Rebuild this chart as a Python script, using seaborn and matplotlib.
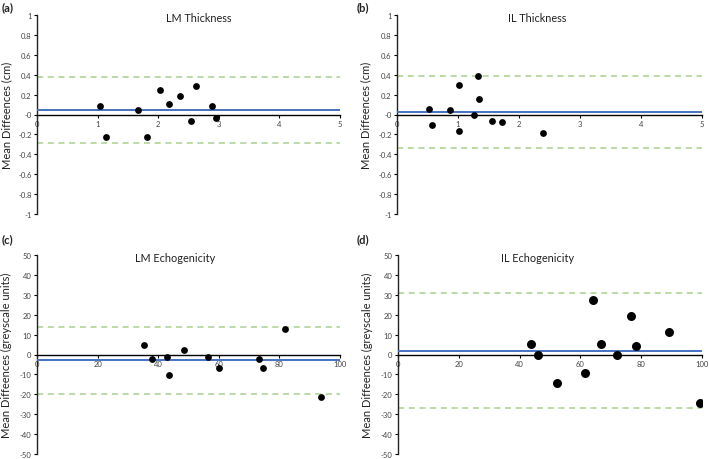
import matplotlib
matplotlib.use("Agg")
import numpy as np
import pandas as pd
import matplotlib.pyplot as plt
import seaborn as sns

#---DATA---
#(a) LM thickness
lm_thick_mean = [1.04, 1.14, 1.66, 1.81, 2.03, 2.17, 2.36, 2.54, 2.63, 2.88, 2.95]
lm_thick_diff = [0.085, -0.225, 0.045, -0.225, 0.25, 0.105, 0.185, -0.065, 0.285, 0.085, -0.035]
lm_thick_bias = 0.045
lm_thick_loa = [0.38, -0.29]

#(b) IL thickness
il_thick_mean = [0.52, 0.58, 0.87, 1.01, 1.01, 1.26, 1.32, 1.34, 1.56, 1.72, 2.40]
il_thick_diff = [0.057, -0.11, 0.044, 0.30, -0.17, 0.0, 0.386, 0.16, -0.07, -0.077, -0.19]
il_thick_bias = 0.03
il_thick_loa = [0.39, -0.335]

#(c) LM echogenicity
lm_echo_mean = [35.4, 38.1, 42.9, 43.4, 48.6, 56.6, 60.2, 73.2, 74.5, 81.9, 93.7]
lm_echo_diff = [4.8, -2.2, -1.2, -10.5, 2.5, -1.3, -6.7, -2.2, -6.7, 12.8, -21.3]
lm_echo_bias = -2.8
lm_echo_loa = [14.0, -20.0]

#(d) IL echogenicity
il_echo_mean = [43.9, 46.0, 52.3, 61.5, 64.2, 66.9, 72.0, 76.6, 78.4, 89.3, 99.3]
il_echo_diff = [5.2, -0.2, -14.2, -9.5, 27.3, 5.3, -0.5, 19.5, 4.2, 11.2, -24.2]
il_echo_bias = 1.8
il_echo_loa = [30.8, -26.7]

panel_letters = ["(a)", "(b)", "(c)", "(d)"]
panel_titles = ["LM Thickness", "IL Thickness", "LM Echogenicity", "IL Echogenicity"]
ylabel_cm = "Mean Diffeences (cm)"
ylabel_grey = "Mean Diffeences (greyscale units)"
#---END DATA---

sns.set_theme(style="ticks")
plt.rcParams["font.family"] = ["Lato", "DejaVu Sans"]

fig = plt.figure(figsize=(7.09, 4.6), dpi=100)

W, H = 709, 460
def px_axes(x0, y0, x1, y1):
    #convert pixel box (top-left origin) into figure fraction
    return fig.add_axes([x0 / W, 1 - y1 / H, (x1 - x0) / W, (y1 - y0) / H])

ax_a = px_axes(37, 16, 340, 215)
ax_b = px_axes(397, 16, 702, 215)
ax_c = px_axes(37, 256, 340, 455)
ax_d = px_axes(398, 256, 702, 455)

def draw_panel(ax, xs, ys, bias, loa, xmax, ylim, ystep, ylabel, title, title_x, size):
    df = pd.DataFrame({"mean": xs, "diff": ys})
    sns.scatterplot(data=df, x="mean", y="diff", ax=ax, color="black", s=size,
                    edgecolor="black", linewidth=0, zorder=4)
    ax.axhline(bias, color="#4472C4", lw=1.4, zorder=3)
    for v in loa:
        ax.axhline(v, color="#A9D18E", lw=1.1, ls=(0, (4, 3)), zorder=2)
    ax.set_xlim(0, xmax)
    ax.set_ylim(-ylim, ylim)
    xt = np.linspace(0, xmax, 6)
    yt = np.round(np.arange(-ylim, ylim + ystep / 2, ystep), 1)
    ax.set_xticks(xt)
    ax.set_yticks(yt)
    ax.set_xticklabels([f"{v:g}" for v in xt])
    ax.set_yticklabels([f"{v:g}" for v in yt])
    ax.spines["top"].set_visible(False)
    ax.spines["right"].set_visible(False)
    ax.spines["bottom"].set_position(("data", 0))
    ax.spines["bottom"].set_linewidth(1.0)
    ax.spines["left"].set_linewidth(1.0)
    ax.spines["bottom"].set_color("black")
    ax.spines["left"].set_color("#222222")
    ax.tick_params(axis="both", labelsize=5.5, labelcolor="#444444", length=2.5, width=0.8,
                   pad=1.5, color="black")
    ax.set_xlabel("")
    ax.set_ylabel(ylabel, fontsize=8, color="#222222")
    ax.yaxis.set_label_coords(-0.083, 0.5)
    ax.text(title_x, 0.985, title, transform=ax.transAxes, ha="center", va="center",
            fontsize=7.8, color="#222222")
    ax.set_facecolor("white")

draw_panel(ax_a, lm_thick_mean, lm_thick_diff, lm_thick_bias, lm_thick_loa, 5, 1, 0.2,
           ylabel_cm, panel_titles[0], 0.535, 24)
draw_panel(ax_b, il_thick_mean, il_thick_diff, il_thick_bias, il_thick_loa, 5, 1, 0.2,
           ylabel_cm, panel_titles[1], 0.46, 24)
draw_panel(ax_c, lm_echo_mean, lm_echo_diff, lm_echo_bias, lm_echo_loa, 100, 50, 10,
           ylabel_grey, panel_titles[2], 0.455, 24)
draw_panel(ax_d, il_echo_mean, il_echo_diff, il_echo_bias, il_echo_loa, 100, 50, 10,
           ylabel_grey, panel_titles[3], 0.46, 42)

#panel letters
for (px, py), letter in zip([(2, 8), (357, 8), (2, 240), (357, 240)], panel_letters):
    fig.text(px / W, 1 - py / H, letter, ha="left", va="center", fontsize=8,
             fontweight="bold", color="#222222")

fig.savefig("out.png", dpi=100, facecolor="white")
